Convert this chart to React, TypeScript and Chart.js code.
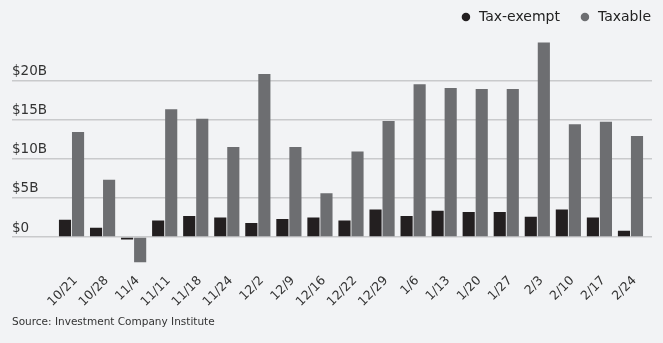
import { useEffect, useRef } from 'react';
import { Chart, registerables } from 'chart.js';

Chart.register(...registerables);

const categories = ['10/21', '10/28', '11/4', '11/11', '11/18', '11/24', '12/2', '12/9', '12/16', '12/22', '12/29', '1/6', '1/13', '1/20', '1/27', '2/3', '2/10', '2/17', '2/24'];
const taxExempt = [2.2, 1.2, -0.3, 2.1, 2.7, 2.5, 1.8, 2.3, 2.5, 2.1, 3.5, 2.7, 3.35, 3.2, 3.2, 2.6, 3.5, 2.5, 0.8];
const taxable = [13.4, 7.3, -3.2, 16.3, 15.1, 11.5, 20.8, 11.5, 5.6, 10.9, 14.8, 19.5, 19.0, 18.9, 18.9, 24.8, 14.4, 14.7, 12.9];
const yTickValues = [0, 5, 10, 15, 20];
const yTickLabels = ['$0', '$5B', '$10B', '$15B', '$20B'];
const seriesNames = ['Tax-exempt', 'Taxable'];
const sourceNote = 'Source: Investment Company Institute';

const BG = '#f2f3f5';
const GRID = '#c9cacc';
const FONT = "'DejaVu Sans', sans-serif";

export default function App() {
  const ref = useRef<HTMLCanvasElement>(null);
  useEffect(() => {
    const setTicks = (s: any) => {
      s.ticks = yTickValues.map((v) => ({ value: v }));
    };
    const chart = new Chart(ref.current!, {
      type: 'bar',
      data: {
        labels: categories,
        datasets: [
          { label: seriesNames[0], data: taxExempt, backgroundColor: '#231f20', categoryPercentage: 0.84, barPercentage: 0.93 },
          { label: seriesNames[1], data: taxable, backgroundColor: '#6d6e71', categoryPercentage: 0.84, barPercentage: 0.93 },
        ],
      },
      options: {
        responsive: false,
        animation: false,
        layout: { padding: { left: 12, right: -7, top: -9, bottom: 0 } },
        plugins: {
          legend: {
            position: 'top',
            align: 'end',
            labels: {
              usePointStyle: true,
              pointStyle: 'circle',
              boxWidth: 12,
              boxHeight: 6,
              padding: 19,
              color: '#222',
              font: { family: FONT, size: 14 },
            },
          },
          title: {
            display: true,
            position: 'bottom',
            align: 'start',
            text: sourceNote,
            color: '#333',
            font: { family: FONT, size: 10.5, weight: 'normal' },
            padding: { top: 8, bottom: 14 },
          },
          tooltip: { enabled: false },
        },
        scales: {
          x: {
            grid: { display: false, drawTicks: false },
            border: { display: false },
            ticks: {
              minRotation: 45,
              maxRotation: 45,
              autoSkip: false,
              padding: 5,
              labelOffset: 4,
              color: '#333',
              font: { family: FONT, size: 12.5 },
            },
            afterFit: (s: any) => {
              s.height = 40;
            },
          },
          y: {
            position: 'left',
            min: -4,
            max: 25.9,
            border: { display: false },
            grid: { color: GRID, lineWidth: 1.5, tickLength: 44 },
            ticks: {
              crossAlign: 'far',
              labelOffset: -9,
              padding: 0,
              color: '#333',
              font: { family: FONT, size: 13.5 },
              callback: (v: any) => {
                const i = yTickValues.indexOf(Number(v));
                return i >= 0 ? yTickLabels[i] : '';
              },
            },
            afterBuildTicks: setTicks,
            afterFit: (s: any) => {
              s.width = 44;
            },
          },
          y2: {
            position: 'right',
            min: -4,
            max: 25.9,
            border: { display: false },
            grid: { color: GRID, lineWidth: 1.5, tickLength: 6, drawOnChartArea: false },
            ticks: { display: false },
            afterBuildTicks: setTicks,
            afterFit: (s: any) => {
              s.width = 24;
            },
          },
        },
      } as any,
    });
    return () => chart.destroy();
  }, []);
  return (
    <div style={{ position: 'fixed', left: 0, top: 0, width: 663, height: 343, background: BG }}>
      <canvas ref={ref} width={663} height={343} />
    </div>
  );
}
